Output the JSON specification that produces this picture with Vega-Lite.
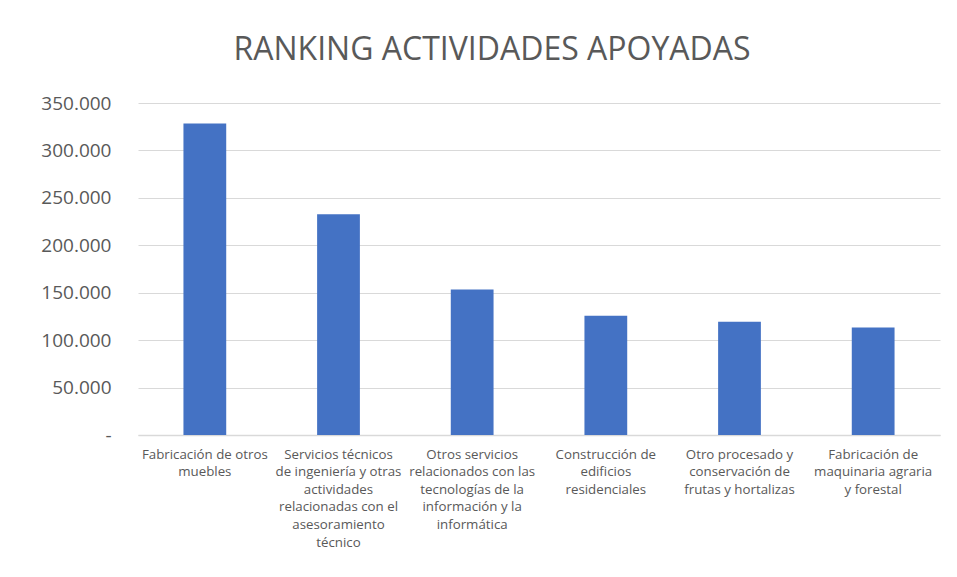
{
  "$schema": "https://vega.github.io/schema/vega-lite/v6.json",
  "autosize": "none",
  "width": 802,
  "height": 332,
  "padding": {"left": 138, "top": 103, "right": 17, "bottom": 142},
  "background": "white",
  "title": {
    "text": "RANKING ACTIVIDADES APOYADAS",
    "font": "Open Sans",
    "fontSize": 32,
    "fontWeight": "normal",
    "color": "#595959",
    "anchor": "middle",
    "dx": -47,
    "offset": 27
  },
  "data": {
    "values": [
      {"actividad": "Fabricación de otros|muebles", "importe": 328300},
      {"actividad": "Servicios técnicos|de ingeniería y otras|actividades|relacionadas con el|asesoramiento|técnico", "importe": 232800},
      {"actividad": "Otros servicios|relacionados con las|tecnologías de la|información y la|informática", "importe": 153500},
      {"actividad": "Construcción de|edificios|residenciales", "importe": 125700},
      {"actividad": "Otro procesado y|conservación de|frutas y hortalizas", "importe": 119300},
      {"actividad": "Fabricación de|maquinaria agraria|y forestal", "importe": 113400}
    ]
  },
  "mark": {"type": "bar", "color": "#4472C4"},
  "encoding": {
    "x": {
      "field": "actividad",
      "type": "nominal",
      "sort": null,
      "scale": {"paddingInner": 0.68, "paddingOuter": 0.34},
      "axis": {
        "title": null,
        "labelAngle": 0,
        "labelExpr": "split(datum.label, '|')",
        "labelFont": "Open Sans",
        "labelFontSize": 13.3,
        "labelColor": "#595959",
        "labelLineHeight": 17.6,
        "labelPadding": 12,
        "labelLimit": 200,
        "ticks": false,
        "domainColor": "#d9d9d9",
        "domainWidth": 1.5
      }
    },
    "y": {
      "field": "importe",
      "type": "quantitative",
      "scale": {"domain": [0, 350000], "nice": false},
      "axis": {
        "title": null,
        "values": [0, 50000, 100000, 150000, 200000, 250000, 300000, 350000],
        "labelExpr": "datum.value == 0 ? '-' : replace(format(datum.value, ',.0f'), ',', '.')",
        "labelFont": "Open Sans",
        "labelFontSize": 19,
        "labelColor": "#595959",
        "labelPadding": 27,
        "ticks": false,
        "domain": false,
        "gridColor": "#d9d9d9",
        "gridWidth": 1.2
      }
    }
  },
  "config": {"view": {"stroke": null}}
}
